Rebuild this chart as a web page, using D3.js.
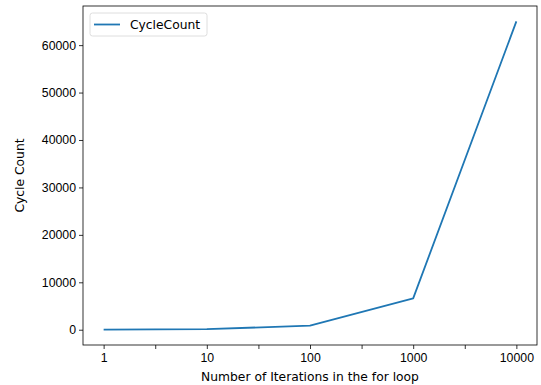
<!DOCTYPE html>
<html>
<head>
<meta charset="utf-8">
<script src="https://cdn.jsdelivr.net/npm/d3@7"></script>
<style>
  body { margin: 0; background: #fff; }
  svg { display: block; font-family: "DejaVu Sans", sans-serif; }
</style>
</head>
<body>
<div id="chart"></div>
<script>
// iterations in the for loop (categorical, evenly spaced)
const iterations = ["1", "10", "100", "1000", "10000"];
const cycleCounts = [30, 120, 850, 6600, 65000];
const yTicks = [0, 10000, 20000, 30000, 40000, 50000, 60000];
const seriesName = "CycleCount";

const width = 541, height = 385;
const margin = { top: 6, right: 4, bottom: 40, left: 83 };

const svg = d3.select("#chart").append("svg")
    .attr("width", width)
    .attr("height", height);

const plotW = width - margin.left - margin.right;
const plotH = height - margin.top - margin.bottom;

const g = svg.append("g")
    .attr("transform", `translate(${margin.left},${margin.top})`);

// matplotlib-like 5% margins
const n = iterations.length;
const x = d3.scaleLinear()
    .domain([-0.05 * (n - 1), (n - 1) * 1.05])
    .range([0, plotW]);

const yMin = d3.min(cycleCounts), yMax = d3.max(cycleCounts);
const pad = (yMax - yMin) * 0.05;
const y = d3.scaleLinear()
    .domain([yMin - pad, yMax + pad])
    .range([plotH, 0]);

// x axis: labelled ticks on each category, unlabelled ones half way
const halfTicks = d3.range(0, n - 1).map(i => i + 0.5);
const xAxis = g.append("g")
    .attr("transform", `translate(0,${plotH})`)
    .call(d3.axisBottom(x)
        .tickValues(d3.range(n).concat(halfTicks))
        .tickSize(4)
        .tickPadding(3)
        .tickFormat(d => Number.isInteger(d) ? iterations[d] : ""));

const yAxis = g.append("g")
    .call(d3.axisLeft(y)
        .tickValues(yTicks)
        .tickSize(4)
        .tickPadding(3)
        .tickFormat(d3.format("d")));

[xAxis, yAxis].forEach(ax => {
  ax.select(".domain").remove();
  ax.selectAll("line").attr("stroke", "#000").attr("stroke-width", 0.8);
  ax.selectAll("text").attr("fill", "#000").style("font-size", "12.3px");
});
xAxis.selectAll("text").attr("dy", "0.85em");

// frame
g.append("rect")
    .attr("width", plotW)
    .attr("height", plotH)
    .attr("fill", "none")
    .attr("stroke", "#000")
    .attr("stroke-width", 0.8);

const line = d3.line()
    .x((d, i) => x(i))
    .y(d => y(d));

g.append("path")
    .datum(cycleCounts)
    .attr("fill", "none")
    .attr("stroke", "#1f77b4")
    .attr("stroke-width", 1.8)
    .attr("stroke-linejoin", "round")
    .attr("d", line);

// legend
const legend = g.append("g").attr("transform", "translate(7,7)");
legend.append("rect")
    .attr("width", 117)
    .attr("height", 23)
    .attr("rx", 2.5)
    .attr("fill", "#fff")
    .attr("fill-opacity", 0.8)
    .attr("stroke", "#d6d6d6")
    .attr("stroke-width", 0.8);
legend.append("line")
    .attr("x1", 4).attr("x2", 30)
    .attr("y1", 11.5).attr("y2", 11.5)
    .attr("stroke", "#1f77b4")
    .attr("stroke-width", 1.8);
legend.append("text")
    .attr("x", 40).attr("y", 11.5)
    .attr("dy", "0.35em")
    .style("font-size", "12.3px")
    .attr("fill", "#000")
    .text(seriesName);

// axis titles
svg.append("text")
    .attr("x", margin.left + plotW / 2)
    .attr("y", height - 4)
    .attr("text-anchor", "middle")
    .style("font-size", "12.3px")
    .attr("fill", "#000")
    .text("Number of Iterations in the for loop");

svg.append("text")
    .attr("transform", `translate(24,${margin.top + plotH / 2}) rotate(-90)`)
    .attr("text-anchor", "middle")
    .style("font-size", "12.3px")
    .attr("fill", "#000")
    .text("Cycle Count");
</script>
</body>
</html>
